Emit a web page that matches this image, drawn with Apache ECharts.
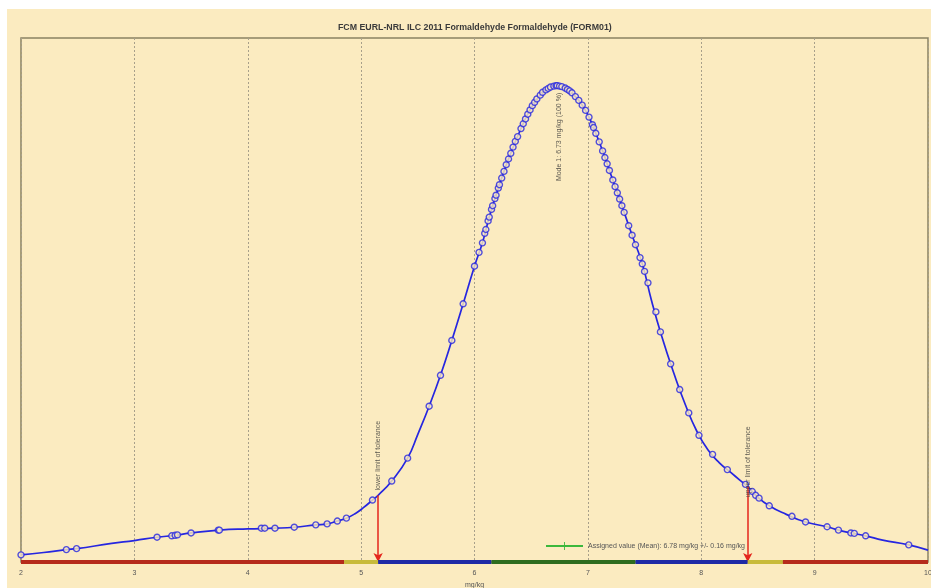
<!DOCTYPE html>
<html>
<head>
<meta charset="utf-8">
<script src="https://cdn.jsdelivr.net/npm/echarts@6/dist/echarts.min.js"></script>
<style>
  html, body { margin: 0; padding: 0; background: #ffffff; }
  #bg { position: absolute; left: 7px; top: 9px; width: 924px; height: 579px; background: #fbebc0; }
  #chart { position: absolute; left: 0; top: 0; width: 931px; height: 588px; }
</style>
</head>
<body>
<div id="bg"></div>
<div id="chart"></div>
<script>
// ---- data ----
const titleText = 'FCM EURL-NRL ILC 2011 Formaldehyde Formaldehyde (FORM01)';
const unitName = 'mg/kg';
const xMin = 2, xMax = 10, xStep = 1;

// kernel density curve (x in mg/kg, y in % of mode)
const curveX = [2.00,2.20,2.40,2.49,2.80,3.00,3.20,3.36,3.50,3.75,4.00,4.24,4.41,4.60,4.70,4.79,4.87,4.95,5.02,5.10,5.15,5.27,5.41,5.50,5.60,5.70,5.80,5.90,6.00,6.07,6.13,6.19,6.26,6.32,6.41,6.49,6.58,6.67,6.73,6.80,6.89,6.95,7.01,7.07,7.13,7.19,7.26,7.32,7.39,7.48,7.56,7.65,7.76,7.86,7.96,8.06,8.16,8.26,8.34,8.41,8.48,8.60,8.75,8.92,9.11,9.21,9.32,9.45,9.60,9.83,10.00];
const curveY = [1.5,2.0,2.6,2.8,3.9,4.5,5.2,5.6,6.1,6.7,6.95,7.1,7.3,7.8,8.0,8.6,9.2,10.2,11.4,13.0,14.0,17.0,21.8,26.8,32.7,39.2,46.5,54.2,62.1,67.0,72.4,77.0,82.0,85.8,91.0,94.9,98.0,99.7,100,99.5,97.7,95.9,93.4,90.0,86.3,82.2,77.5,73.4,68.6,62.6,55.0,47.5,39.5,33.0,27.5,23.5,20.8,18.8,17.2,15.8,14.0,11.8,10.0,8.4,7.4,6.7,6.1,5.5,4.6,3.6,2.5];

// participant results (markers on the curve)
const pointX = [2.00,2.40,2.49,3.20,3.33,3.36,3.38,3.50,3.74,3.75,4.12,4.15,4.24,4.41,4.60,4.70,4.79,4.87,5.10,5.27,5.41,5.60,5.70,5.80,5.90,6.00,6.04,6.07,6.09,6.10,6.12,6.13,6.15,6.16,6.18,6.19,6.21,6.22,6.24,6.26,6.28,6.30,6.32,6.34,6.36,6.38,6.41,6.43,6.45,6.47,6.49,6.51,6.53,6.55,6.58,6.60,6.63,6.65,6.67,6.70,6.72,6.73,6.75,6.77,6.80,6.82,6.84,6.86,6.89,6.92,6.95,6.98,7.01,7.04,7.05,7.07,7.10,7.13,7.15,7.17,7.19,7.22,7.24,7.26,7.28,7.30,7.32,7.36,7.39,7.42,7.46,7.48,7.50,7.53,7.60,7.64,7.73,7.81,7.89,7.98,8.10,8.23,8.39,8.45,8.48,8.51,8.60,8.80,8.92,9.11,9.21,9.32,9.35,9.45,9.83];
const pointY = [1.5,2.6,2.8,5.2,5.5,5.6,5.7,6.1,6.7,6.7,7.1,7.1,7.1,7.3,7.8,8.0,8.6,9.2,13.0,17.0,21.8,32.7,39.2,46.5,54.2,62.1,65.0,67.0,69.0,69.8,71.6,72.4,74.0,74.8,76.3,77.0,78.5,79.2,80.6,82.0,83.4,84.6,85.8,87.1,88.3,89.3,91.0,92.0,93.0,94.0,94.9,95.8,96.5,97.2,98.0,98.6,99.1,99.4,99.7,99.9,100,100,99.9,99.8,99.5,99.2,98.9,98.5,97.7,96.9,95.9,94.8,93.4,91.8,91.2,90.0,88.2,86.3,84.9,83.6,82.2,80.2,78.8,77.5,76.2,74.8,73.4,70.6,68.6,66.6,63.9,62.6,61.0,58.6,52.5,48.3,41.6,36.2,31.3,26.6,22.6,19.4,16.3,14.8,14.0,13.4,11.8,9.6,8.4,7.4,6.7,6.1,6.0,5.5,3.6];

// tolerance zones along the axis
const zoneStart = [2.00, 4.85, 5.15, 6.15, 7.42, 8.41, 8.72];
const zoneEnd   = [4.85, 5.15, 6.15, 7.42, 8.41, 8.72, 10.00];
const zoneKind  = ['unsat', 'quest', 'sat', 'good', 'sat', 'quest', 'unsat'];

// tolerance limits (x, curve height at x)
const limitX = [5.15, 8.41];
const limitY = [14.0, 15.8];
const limitText = ['lower limit of tolerance', 'upper limit of tolerance'];
const limitTextY = [15.0, 13.6];

const modeX = 6.75, modeY = 98.5;
const modeText = 'Mode 1: 6.73 mg/kg (100 %)';
const assignedText = 'Assigned value (Mean): 6.78 mg/kg +/- 0.16 mg/kg';

// ---- styles ----
const zoneColors = { unsat: '#b62b1b', quest: '#c8bb3a', sat: '#1f2aa6', good: '#2e6d1f' };
const blue = '#2626e0';
const font = 'Liberation Sans, Arial, sans-serif';

const chart = echarts.init(document.getElementById('chart'), null, { renderer: 'canvas' });

const zoneSeries = zoneStart.map((s, i) => ({
  type: 'line',
  data: [[s, 0], [zoneEnd[i], 0]],
  symbol: 'none',
  clip: false,
  z: 6,
  silent: true,
  lineStyle: { color: zoneColors[zoneKind[i]], width: 4, cap: 'butt' }
}));

const option = {
  animation: false,
  backgroundColor: 'transparent',
  title: {
    text: titleText,
    left: 333, top: 18,
    textStyle: { fontSize: 8.8, fontWeight: 'bold', color: '#3a3a3a', fontFamily: font }
  },
  legend: {
    data: [assignedText],
    left: 540, top: 537,
    itemWidth: 37, itemHeight: 10, itemGap: 5,
    textStyle: { fontSize: 7, color: '#555', fontFamily: font },
    selectedMode: false
  },
  grid: {
    left: 21, right: 3, top: 38, bottom: 26,
    outerBoundsMode: 'none',
    containLabel: false,
    show: true, borderColor: '#8a8262', borderWidth: 1.5, backgroundColor: 'transparent'
  },
  xAxis: {
    type: 'value', min: xMin, max: xMax, interval: xStep,
    name: unitName, nameLocation: 'middle', nameGap: 17,
    nameTextStyle: { fontSize: 7, color: '#555', fontFamily: font },
    axisLine: { show: false }, axisTick: { show: false },
    axisLabel: { fontSize: 7, color: '#555', margin: 8, fontFamily: font },
    splitLine: { show: true, lineStyle: { color: '#a8a08a', type: [2, 2], width: 1 } }
  },
  yAxis: { type: 'value', min: 0, max: 110, show: false },
  series: [
    ...zoneSeries,
    {
      type: 'line',
      data: curveX.map((x, i) => [x, curveY[i]]),
      smooth: 0.5,
      symbol: 'none',
      z: 3,
      lineStyle: { color: blue, width: 1.7 },
      markLine: {
        silent: true,
        symbol: ['none', 'arrow'],
        symbolSize: [7, 9],
        label: { show: false },
        lineStyle: { color: '#e4261c', width: 1.5, type: 'solid' },
        data: limitX.map((x, i) => [{ coord: [x, limitY[i]] }, { coord: [x, 0] }])
      }
    },
    {
      type: 'scatter',
      data: pointX.map((x, i) => [x, pointY[i]]),
      symbol: 'circle',
      symbolSize: 6,
      z: 4,
      itemStyle: { color: '#fbebc0', borderColor: blue, borderWidth: 1.4 }
    },
    {
      type: 'scatter',
      symbolSize: 0,
      z: 7,
      data: limitX.map((x, i) => ({
        value: [x, limitTextY[i]],
        label: { show: true, formatter: limitText[i] }
      })).concat([{
        value: [modeX, modeY],
        label: { show: true, formatter: modeText, align: 'right' }
      }]),
      label: {
        show: true, position: 'inside', rotate: 90, align: 'left', verticalAlign: 'middle',
        fontSize: 7, color: '#333', fontFamily: font
      }
    },
    {
      name: assignedText,
      type: 'line',
      data: [],
      symbol: 'path://M0,4h9v1h-9z M4,0h1v9h-1z',
      symbolSize: 9,
      itemStyle: { color: '#3cb83c' },
      lineStyle: { color: '#3cb83c', width: 1 }
    }
  ]
};
chart.setOption(option);
</script>
</body>
</html>
